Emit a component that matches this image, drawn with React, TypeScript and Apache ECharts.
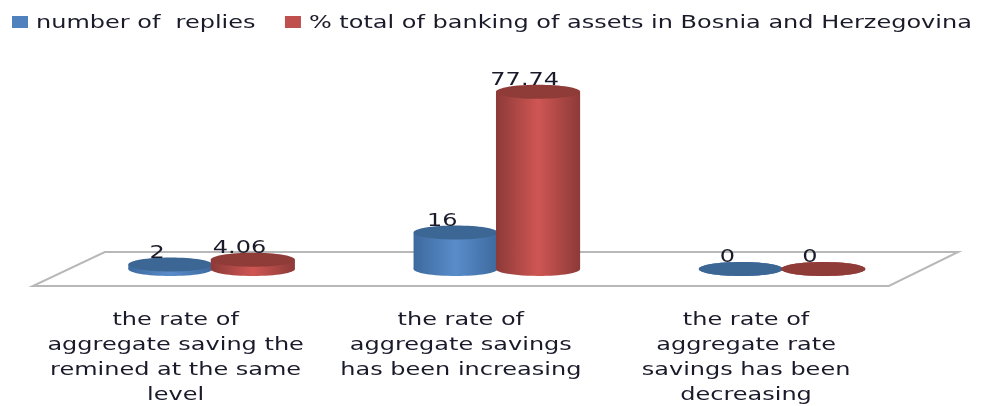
import React, { useEffect, useRef } from "react";
import * as echarts from "echarts";

const categories = [
  "the rate of\naggregate saving the\nremined at the same\nlevel",
  "the rate of\naggregate savings\nhas been increasing",
  "the rate of\naggregate rate\nsavings has been\ndecreasing",
];
const seriesNames = ["number of  replies", "% total of banking of assets in Bosnia and Herzegovina"];
const replies = [2, 16, 0];
const assets = [4.06, 77.74, 0];
const labelsReplies = ["2", "16", "0"];
const labelsAssets = ["4.06", "77.74", "0"];

const FONT = "DejaVu Sans";
// The reference is a picture stretched sideways: the chart is drawn narrower and widened by CSS.
const STRETCH = 4 / 3;
const DEPTH_X = 54;
const DEPTH_Y = 34;

const palette = [
  { side: "#3d6a9e", mid: "#5a8ccb", top: "#3c6694", legend: "#4f81bd" },
  { side: "#8c3a38", mid: "#cf5653", top: "#8f3c39", legend: "#c0504d" },
];

function cylinder(paletteIndex: number, labels: string[], sign: number) {
  return (params: any, api: any) => {
    const c = palette[paletteIndex];
    const i = api.value(0);
    const base = api.coord([i, 0]);
    const top = api.coord([i, api.value(1)]);
    const band = api.size([1, 0])[0];
    const rx = band * 0.1475;
    const ry = 7;
    const cx = base[0] + DEPTH_X / 2 + sign * band * 0.1445;
    const yBase = base[1] - DEPTH_Y / 2;
    const yTop = top[1] - DEPTH_Y / 2;
    const grad = new echarts.graphic.LinearGradient(0, 0, 1, 0, [
      { offset: 0, color: c.side },
      { offset: 0.5, color: c.mid },
      { offset: 1, color: c.side },
    ]);
    return {
      type: "group",
      children: [
        { type: "ellipse", shape: { cx, cy: yBase, rx, ry }, style: { fill: grad } },
        { type: "rect", shape: { x: cx - rx, y: yTop, width: rx * 2, height: yBase - yTop }, style: { fill: grad } },
        { type: "ellipse", shape: { cx, cy: yTop, rx, ry }, style: { fill: c.top } },
        {
          type: "text",
          style: {
            text: labels[i],
            x: cx - 10,
            y: yTop - 13,
            align: "center",
            verticalAlign: "middle",
            fontFamily: FONT,
            fontSize: 18,
            fill: "#1a1a2a",
          },
        },
      ],
    };
  };
}

function floor(params: any) {
  const g = params.coordSys;
  const yFront = g.y + g.height;
  return {
    type: "polygon",
    shape: {
      points: [
        [g.x, yFront],
        [g.x + g.width, yFront],
        [g.x + g.width + DEPTH_X - 2, yFront - DEPTH_Y],
        [g.x + DEPTH_X, yFront - DEPTH_Y],
      ],
    },
    style: { fill: "#ffffff", stroke: "#b8b8b8", lineWidth: 2 },
  };
}

export default function App() {
  const ref = useRef<HTMLDivElement>(null);
  useEffect(() => {
    const chart = echarts.init(ref.current!, undefined, { renderer: "svg" });
    chart.setOption({
      animation: false,
      backgroundColor: "#ffffff",
      grid: { left: 24.75, right: 79.5, top: 58, bottom: 118 },
      legend: {
        data: seriesNames,
        left: 9,
        top: 13,
        padding: 0,
        itemWidth: 12,
        itemHeight: 12,
        itemGap: 22,
        icon: "rect",
        textStyle: { fontFamily: FONT, fontSize: 18, color: "#1a1a2a", padding: [0, 0, 0, 1] },
      },
      xAxis: {
        type: "category",
        data: categories,
        axisLine: { show: false },
        axisTick: { show: false },
        axisLabel: {
          interval: 0,
          margin: 20,
          fontFamily: FONT,
          fontSize: 18,
          lineHeight: 25,
          color: "#1a1a2a",
        },
      },
      yAxis: { type: "value", min: 0, max: 100, show: false, splitLine: { show: false } },
      series: [
        { type: "custom", name: "floor", silent: true, z: 1, data: [[0, 0]], renderItem: floor, encode: { x: 0, y: 1 } },
        {
          type: "custom",
          name: seriesNames[0],
          z: 2,
          itemStyle: { color: palette[0].legend },
          data: replies.map((v, i) => [i, v]),
          renderItem: cylinder(0, labelsReplies, -1),
          encode: { x: 0, y: 1 },
        },
        {
          type: "custom",
          name: seriesNames[1],
          z: 3,
          itemStyle: { color: palette[1].legend },
          data: assets.map((v, i) => [i, v]),
          renderItem: cylinder(1, labelsAssets, 1),
          encode: { x: 0, y: 1 },
        },
      ],
    });
    return () => chart.dispose();
  }, []);
  return (
    <div
      ref={ref}
      style={{
        position: "fixed",
        left: 0,
        top: 0,
        width: 994 / STRETCH,
        height: 406,
        transform: `scaleX(${STRETCH})`,
        transformOrigin: "left top",
        filter: "blur(0.4px)",
      }}
    />
  );
}
